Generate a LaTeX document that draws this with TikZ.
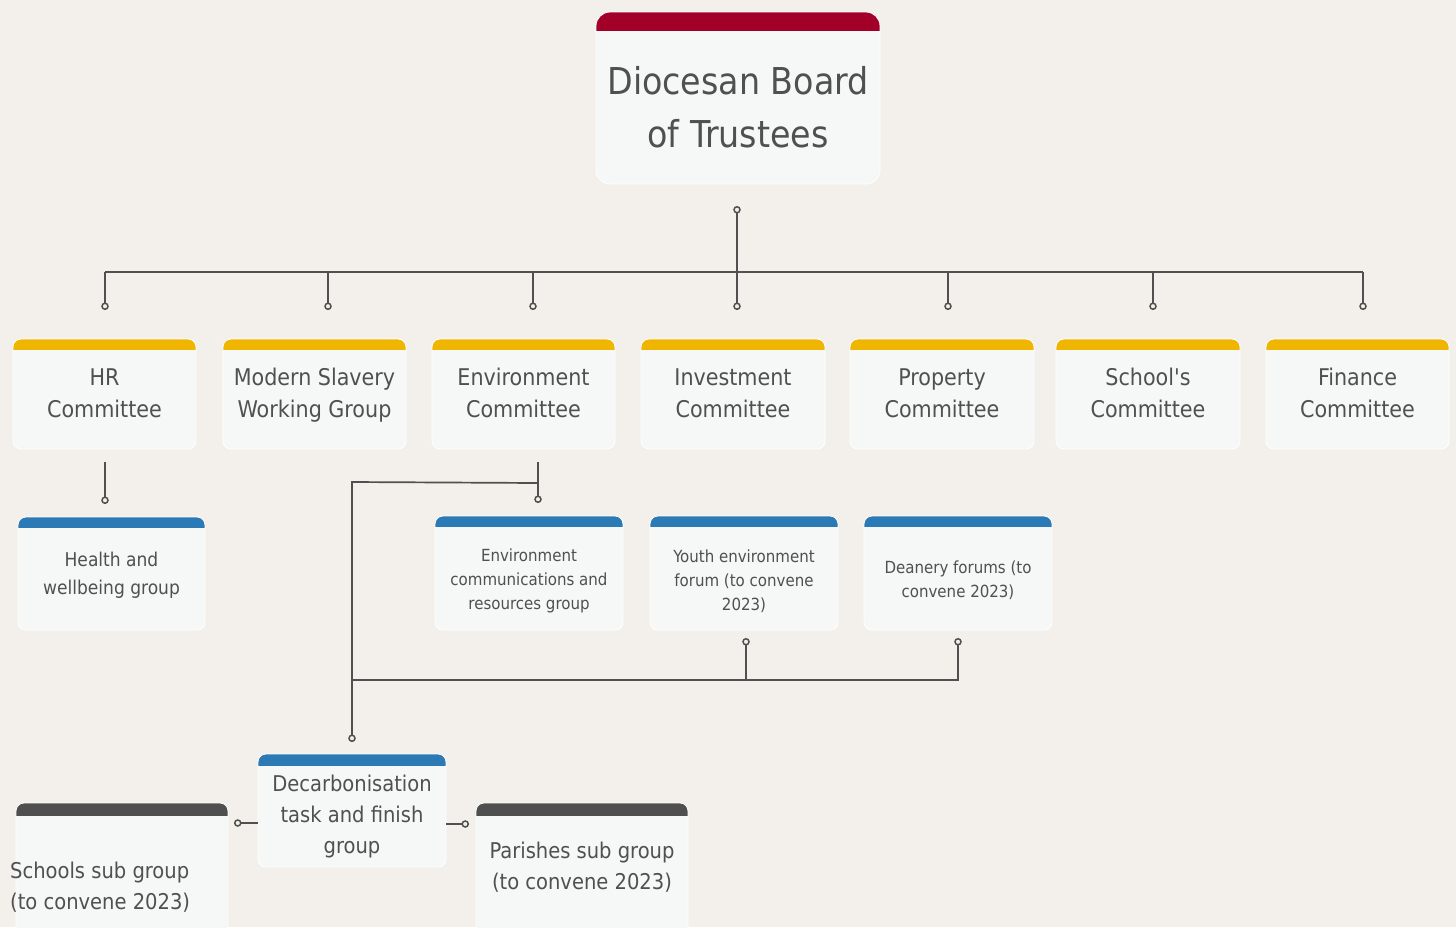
\documentclass[tikz,border=0pt]{standalone}
\usepackage{fontspec}
\setmainfont{DejaVu Sans Condensed}
\usetikzlibrary{arrows.meta}
\definecolor{paper}{HTML}{F3F0EB}
\definecolor{card}{HTML}{F6F7F7}
\definecolor{ink}{HTML}{505050}
\definecolor{wirec}{HTML}{505050}
\definecolor{boardhead}{HTML}{A30029}
\definecolor{cmtehead}{HTML}{EFB500}
\definecolor{grphead}{HTML}{2B79B5}
\definecolor{subhead}{HTML}{4F4F4F}
\tikzset{
  box/.style={draw=white, line width=0.8pt, fill=card, rounded corners=8pt, inner sep=0pt, align=center, text=ink},
  head/.style 2 args={path picture={\fill[#1, sharp corners] (path picture bounding box.north west) rectangle ([yshift=-#2]path picture bounding box.north east);}},
  lift/.style={text height=#1, text depth=0pt},
  wire/.style={draw=wirec, line width=1.7pt},
  ring/.tip={Circle[open, length=7.5pt, line width=1.5pt]},
  bigtxt/.style={font=\fontsize{37}{53}\selectfont},
  midtxt/.style={font=\fontsize{23}{32}\selectfont},
  subtxt/.style={font=\fontsize{21.7}{31}\selectfont},
  smalltxt/.style={font=\fontsize{19}{28}\selectfont},
  tinytxt/.style={font=\fontsize{16.7}{24}\selectfont}
}
\begin{document}
\begin{tikzpicture}[x=1pt,y=-1pt]
  \fill[paper] (0,0) rectangle (1456,927);
  \useasboundingbox (0,0) rectangle (1456,927);
  \node[box, bigtxt, lift=98pt, head={boardhead}{19pt}, rounded corners=14pt, minimum width=284pt, minimum height=172pt](bdt) at (738,98){Diocesan Board\\of Trustees};
  \node[box, midtxt, lift=46pt, head={cmtehead}{11pt}, minimum width=183pt, minimum height=110pt](hr) at (104.5,394){HR\\Committee};
  \node[box, midtxt, lift=46pt, head={cmtehead}{11pt}, minimum width=183pt, minimum height=110pt](msw) at (314.5,394){Modern Slavery\\Working Group};
  \node[box, midtxt, lift=46pt, head={cmtehead}{11pt}, minimum width=183pt, minimum height=110pt](env) at (523.5,394){Environment\\Committee};
  \node[box, midtxt, lift=46pt, head={cmtehead}{11pt}, minimum width=184pt, minimum height=110pt](inv) at (733,394){Investment\\Committee};
  \node[box, midtxt, lift=46pt, head={cmtehead}{11pt}, minimum width=184pt, minimum height=110pt](prop) at (942,394){Property\\Committee};
  \node[box, midtxt, lift=46pt, head={cmtehead}{11pt}, minimum width=184pt, minimum height=110pt](sch) at (1148,394){School\textquotesingle s\\Committee};
  \node[box, midtxt, lift=46pt, head={cmtehead}{11pt}, minimum width=183pt, minimum height=110pt](fin) at (1357.5,394){Finance\\Committee};
  \node[box, smalltxt, lift=42pt, head={grphead}{11pt}, minimum width=187pt, minimum height=113pt](hwg) at (111.5,573.5){Health and\\wellbeing group};
  \node[box, tinytxt, lift=73pt, head={grphead}{11pt}, minimum width=188pt, minimum height=114pt](ecr) at (529,573){Environment\\communications and\\resources group};
  \node[box, tinytxt, lift=74.5pt, head={grphead}{11pt}, minimum width=188pt, minimum height=114pt](yef) at (744,573){Youth environment\\forum (to convene\\2023)};
  \node[box, tinytxt, lift=49.5pt, head={grphead}{11pt}, minimum width=188pt, minimum height=114pt](dfo) at (958,573){Deanery forums (to\\convene 2023)};
  \node[box, subtxt, lift=86pt, head={grphead}{12pt}, minimum width=188pt, minimum height=113pt](dtf) at (352,810.5){Decarbonisation\\task and finish\\group};
  \node[box, head={subhead}{13pt}, minimum width=212pt, minimum height=166pt](ssg) at (122,886){};
  \node[box, head={subhead}{13pt}, minimum width=212pt, minimum height=166pt](psg) at (582,886){};
  \node[subtxt, text=ink, align=left, anchor=west, inner sep=0pt](ssgt) at (10,887){Schools sub group\\(to convene 2023)};
  \node[subtxt, text=ink, align=center, inner sep=0pt](psgt) at (582,867){Parishes sub group\\(to convene 2023)};
  \coordinate(top) at (737,206);
  \coordinate(bar) at (737,272);
  \foreach \n/\x in {hr/105,msw/328,env/533,inv/737,prop/948,sch/1153,fin/1363}
    \coordinate(\n-in) at (\x,310);
  \coordinate(hr-out) at (105,462);
  \coordinate(hwg-in) at (105,504);
  \coordinate(env-out) at (538,462);
  \coordinate(env-fork) at (538,483);
  \coordinate(ecr-in) at (538,503);
  \coordinate(dtf-in) at (352,742);
  \coordinate(yef-out) at (746,638);
  \coordinate(dfo-out) at (958,638);
  \coordinate(dtf-l) at (234,823);
  \coordinate(dtf-r) at (469,824);
  \draw[wire,ring-] (top)--(bar);
  \draw[wire] (hr-in|-bar)--(fin-in|-bar);
  \foreach \n in {hr,msw,env,inv,prop,sch,fin}
    \draw[wire,-ring] (\n-in|-bar)--(\n-in);
  \draw[wire,-ring] (hr-out)--(hwg-in);
  \draw[wire,-ring] (env-out)--(ecr-in);
  \draw[wire,-ring] (env-fork)--(352,482)--(dtf-in);
  \draw[wire,ring-] (yef-out)--(746,680);
  \draw[wire,ring-] (dfo-out)--(958,680)--(352,680);
  \draw[wire,ring-] (dtf-l)--(dtf.west|-dtf-l);
  \draw[wire,-ring] (dtf.east|-dtf-r)--(dtf-r);
\end{tikzpicture}
\end{document}
